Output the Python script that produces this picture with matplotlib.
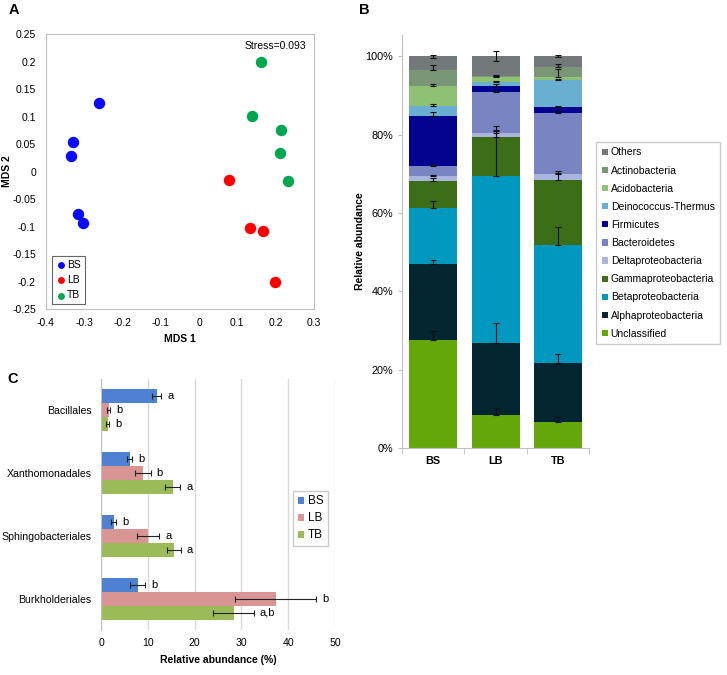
import matplotlib.pyplot as plt
import numpy as np

plt.rcParams['font.family'] = ['Liberation Sans', 'DejaVu Sans']
plt.rcParams['font.size'] = 8

# ---- panel A: NMDS ordination
bs_x = [-0.260, -0.328, -0.335, -0.315, -0.302]
bs_y = [0.125, 0.053, 0.028, -0.077, -0.093]
lb_x = [0.078, 0.133, 0.168, 0.197]
lb_y = [-0.015, -0.102, -0.109, -0.200]
tb_x = [0.163, 0.138, 0.215, 0.210, 0.232]
tb_y = [0.200, 0.101, 0.076, 0.033, -0.018]
stress = "Stress=0.093"

# ---- panel B: stacked relative abundance (%)
sites = ["BS", "LB", "TB"]
taxa = ["Unclassified", "Alphaproteobacteria", "Betaproteobacteria",
        "Gammaproteobacteria", "Deltaproteobacteria", "Bacteroidetes",
        "Firmicutes", "Deinococcus-Thermus", "Acidobacteria",
        "Actinobacteria", "Others"]
abund = {
    "Unclassified":        [27.5, 8.3, 6.6],
    "Alphaproteobacteria": [19.4, 18.5, 15.1],
    "Betaproteobacteria":  [14.3, 42.7, 30.1],
    "Gammaproteobacteria": [7.0, 9.8, 16.6],
    "Deltaproteobacteria": [1.2, 1.0, 1.6],
    "Bacteroidetes":       [2.7, 10.5, 15.5],
    "Firmicutes":          [12.7, 1.6, 1.5],
    "Deinococcus-Thermus": [2.4, 1.0, 7.0],
    "Acidobacteria":       [5.2, 1.2, 0.8],
    "Actinobacteria":      [4.2, 0.3, 2.4],
    "Others":              [3.4, 5.1, 2.8],
}
abund_err = {
    "Unclassified":        [2.3, 1.8, 1.2],
    "Alphaproteobacteria": [1.2, 5.2, 2.2],
    "Betaproteobacteria":  [1.8, 12.6, 4.7],
    "Gammaproteobacteria": [0.6, 2.0, 2.3],
    "Deltaproteobacteria": [0.3, 0.5, 0.3],
    "Bacteroidetes":       [0.4, 0.5, 0.5],
    "Firmicutes":          [1.0, 0.5, 0.3],
    "Deinococcus-Thermus": [0.6, 0.4, 0.3],
    "Acidobacteria":       [0.5, 0.3, 1.9],
    "Actinobacteria":      [1.1, 0.3, 0.8],
    "Others":              [0.4, 1.3, 0.3],
}
taxa_colors = ["#64a70b", "#032630", "#0098be", "#3c6e18", "#a9b5dd",
               "#7885c2", "#03038f", "#68afd2", "#8ec173", "#799776",
               "#73797b"]

# ---- panel C: orders (%)
orders = ["Bacillales", "Xanthomonadales", "Sphingobacteriales", "Burkholderiales"]
c_bs = [11.9, 6.1, 2.7, 7.8]
c_lb = [1.6, 8.9, 10.0, 37.3]
c_tb = [1.4, 15.3, 15.5, 28.3]
c_bs_err = [1.0, 0.6, 0.6, 1.6]
c_lb_err = [0.4, 1.7, 2.4, 8.7]
c_tb_err = [0.3, 1.6, 1.5, 4.3]
c_bs_lab = ["a", "b", "b", "b"]
c_lb_lab = ["b", "b", "a", "b"]
c_tb_lab = ["b", "a", "a", "a,b"]

gray = "#bfbfbf"
fig = plt.figure(figsize=(7.27, 6.75), dpi=100)

# ================= A
axA = fig.add_axes([0.0629, 0.5422, 0.3690, 0.4074])
axA.scatter(bs_x, bs_y, s=52, color="#0a0aff", label="BS", zorder=3)
axA.scatter(lb_x, lb_y, s=52, color="#ff0000", label="LB", zorder=3)
axA.scatter(tb_x, tb_y, s=52, color="#00a650", label="TB", zorder=3)
axA.set_xlim(-0.4, 0.3)
axA.set_ylim(-0.25, 0.25)
axA.set_xticks(np.arange(-0.4, 0.31, 0.1))
axA.set_yticks(np.arange(-0.25, 0.251, 0.05))
axA.set_xticklabels(["%g" % (round(v, 2) + 0.0) for v in axA.get_xticks()])
axA.set_yticklabels(["%g" % (round(v, 2) + 0.0) for v in axA.get_yticks()])
axA.tick_params(length=0, labelsize=7.5)
axA.tick_params(axis="x", pad=6.5)
axA.tick_params(axis="y", pad=7)
for s in axA.spines.values():
    s.set_color(gray)
axA.set_xlabel("MDS 1", fontweight="bold", fontsize=7.5, labelpad=4)
axA.set_ylabel("MDS 2", fontweight="bold", fontsize=7.5, labelpad=0)
axA.text(0.97, 0.975, stress, transform=axA.transAxes, ha="right", va="top", fontsize=7.5)
legA = axA.legend(loc="lower left", bbox_to_anchor=(0.0235, 0.018), borderaxespad=0,
                  frameon=True, fancybox=False, edgecolor="#404040", handletextpad=0.1,
                  handlelength=1.0, labelspacing=0.5, borderpad=0.35,
                  markerscale=0.55, fontsize=7.5)
legA.get_frame().set_linewidth(0.8)

# ================= B
axB = fig.add_axes([0.553, 0.3363, 0.2572, 0.6117])
xpos = np.arange(len(sites))
bottom = np.zeros(len(sites))
handles = []
for name, col in zip(taxa, taxa_colors):
    vals = np.array(abund[name]) / 100
    err = np.array(abund_err[name]) / 100
    h = axB.bar(xpos, vals, 0.77, bottom=bottom, color=col, label=name, zorder=2)
    handles.append(h)
    top = bottom + vals
    lower = err if name == "Others" else np.zeros_like(err)
    axB.errorbar(xpos, top, yerr=[lower, err], fmt="none", ecolor="#111111",
                 elinewidth=0.8, capsize=2.2, capthick=0.8, zorder=3)
    bottom = top
axB.set_xlim(-0.5, 2.5)
axB.set_ylim(0, 1.054)
axB.set_yticks(np.arange(0, 1.01, 0.2))
axB.set_yticklabels(["%d%%" % round(v * 100) for v in np.arange(0, 1.01, 0.2)])
axB.set_xticks(xpos)
axB.set_xticklabels(sites, fontweight="bold")
axB.set_xticks([-0.5, 0.5, 1.5, 2.5], minor=True)
axB.tick_params(axis="x", which="major", length=0, labelsize=7.8, pad=6)
axB.tick_params(axis="x", which="minor", length=4, color=gray)
axB.tick_params(axis="y", length=3, color=gray, labelsize=7.8)
axB.spines["top"].set_visible(False)
axB.spines["right"].set_visible(False)
axB.spines["left"].set_color(gray)
axB.spines["bottom"].set_color(gray)
axB.set_ylabel("Relative abundance", fontweight="bold", fontsize=7.5, labelpad=0)
legB = fig.legend(handles[::-1], taxa[::-1], loc="upper left", borderaxespad=0,
                  bbox_to_anchor=(0.820, 0.790), frameon=True, fancybox=False,
                  edgecolor=gray, handlelength=0.55, handleheight=0.55,
                  handletextpad=0.3, labelspacing=0.78, borderpad=0.55, fontsize=7.5)

# ================= C
axC = fig.add_axes([0.139, 0.0667, 0.3219, 0.3718])
yc = np.arange(len(orders))[::-1]
hgt = 0.223
series = [(c_bs, c_bs_err, c_bs_lab, "#4f81d3", "BS", hgt),
          (c_lb, c_lb_err, c_lb_lab, "#d99594", "LB", 0),
          (c_tb, c_tb_err, c_tb_lab, "#9bbb59", "TB", -hgt)]
for vals, err, labs, col, name, off in series:
    axC.barh(yc + off, vals, hgt, color=col, label=name, zorder=2)
    axC.errorbar(vals, yc + off, xerr=err, fmt="none", ecolor="#222222",
                 elinewidth=0.8, capsize=2.2, capthick=0.8, zorder=3)
    for v, e, lab, y in zip(vals, err, labs, yc + off):
        axC.text(v + e + 1.3, y, lab, ha="left", va="center", fontsize=8)
axC.set_xlim(0, 50)
axC.set_ylim(-0.5, 3.5)
axC.set_xticks(np.arange(0, 51, 10))
axC.set_yticks(yc)
axC.set_yticklabels(orders)
axC.grid(axis="x", color="#d9d9d9", lw=1, zorder=0)
axC.tick_params(length=0, labelsize=7.6, pad=6)
axC.tick_params(axis="y", pad=7)
for sname in ["top", "right", "bottom"]:
    axC.spines[sname].set_visible(False)
axC.spines["left"].set_color(gray)
axC.set_xlabel("Relative abundance (%)", fontweight="bold", fontsize=7.5, labelpad=5)
legC = fig.legend(*axC.get_legend_handles_labels(), loc="upper left", borderaxespad=0,
                  bbox_to_anchor=(0.403, 0.273), frameon=True, fancybox=False,
                  edgecolor=gray, handlelength=0.55, handleheight=0.55,
                  handletextpad=0.3, labelspacing=0.42, borderpad=0.4, fontsize=8.5)

# panel letters
fig.text(0.012, 0.995, "A", fontsize=10.5, fontweight="bold", va="top")
fig.text(0.494, 0.996, "B", fontsize=10.5, fontweight="bold", va="top")
fig.text(0.010, 0.449, "C", fontsize=10.5, fontweight="bold", va="top")

fig.savefig("out.png", dpi=100)
